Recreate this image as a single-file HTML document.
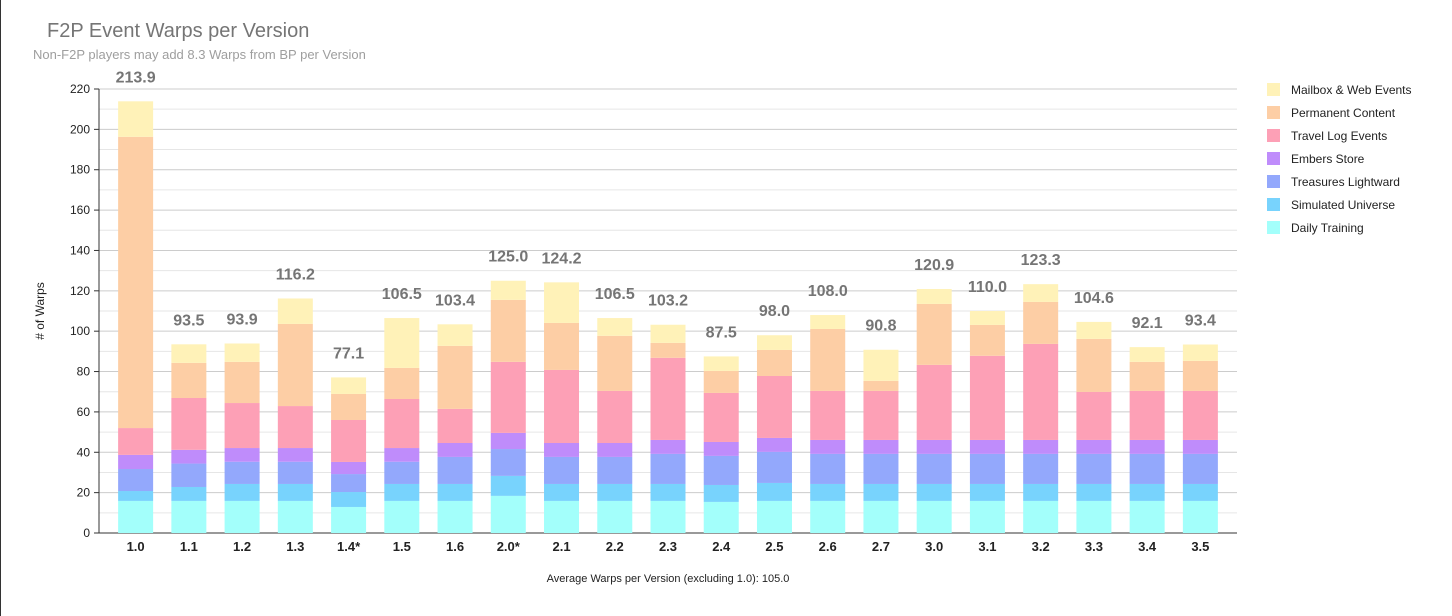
<!DOCTYPE html>
<html><head><meta charset="utf-8"><style>
body{margin:0;background:#fff;}
#wrap{position:relative;width:1452px;height:616px;border-left:1px solid #333;box-sizing:border-box;overflow:hidden;font-family:"Liberation Sans",Arial,sans-serif;}
</style></head><body>
<div id="wrap">
<svg id="chart" width="1452" height="616" style="position:absolute;left:-1px;top:0">
<text x="47" y="37" font-size="20" fill="#757575">F2P Event Warps per Version</text>
<text x="33" y="59" font-size="13" fill="#9e9e9e">Non-F2P players may add 8.3 Warps from BP per Version</text>
<text transform="translate(44,311) rotate(-90)" text-anchor="middle" font-size="12" fill="#222"># of Warps</text>
<text x="668" y="582" text-anchor="middle" font-size="11" fill="#222">Average Warps per Version (excluding 1.0): 105.0</text>
<g id="grid"></g><g id="bars"></g><g id="labels"></g><g id="legend"></g>
</svg>
</div>
<script>
const categories=["1.0","1.1","1.2","1.3","1.4*","1.5","1.6","2.0*","2.1","2.2","2.3","2.4","2.5","2.6","2.7","3.0","3.1","3.2","3.3","3.4","3.5"];
const totals=[213.9,93.5,93.9,116.2,77.1,106.5,103.4,125.0,124.2,106.5,103.2,87.5,98.0,108.0,90.8,120.9,110.0,123.3,104.6,92.1,93.4];
const dailyTraining=[15.9,15.9,15.9,15.9,12.9,15.9,15.9,18.4,15.9,15.9,15.9,15.4,15.9,15.9,15.9,15.9,15.9,15.9,15.9,15.9,15.9];
const simulatedUniverse=[4.9,6.9,8.4,8.4,7.4,8.4,8.4,9.9,8.4,8.4,8.4,8.4,8.9,8.4,8.4,8.4,8.4,8.4,8.4,8.4,8.4];
const treasuresLightward=[10.9,11.6,11.0,11.0,8.9,11.0,13.4,13.3,13.4,13.4,14.9,14.4,15.4,14.9,14.9,14.9,14.9,14.9,14.9,14.9,14.9];
const embersStore=[7.0,6.8,6.8,6.8,6.0,6.8,6.9,8.0,6.9,6.9,6.9,6.9,6.9,6.9,6.9,6.9,6.9,6.9,6.9,6.9,6.9];
const travelLog=[13.3,25.7,22.3,20.8,20.8,24.3,16.9,35.2,36.2,25.8,40.7,24.3,30.7,24.3,24.3,37.2,41.7,47.6,23.8,24.3,24.3];
const permanentContent=[144.3,17.4,20.4,40.7,12.9,15.4,31.2,30.7,23.3,27.3,7.4,10.9,12.9,30.7,5.0,30.2,15.3,20.8,26.3,14.4,14.9];
const mailboxWeb=[17.6,9.2,9.1,12.6,8.2,24.7,10.7,9.5,20.1,8.8,9.0,7.2,7.3,6.9,15.4,7.4,6.9,8.8,8.4,7.3,8.1];
const seriesNames=["Daily Training","Simulated Universe","Treasures Lightward","Embers Store","Travel Log Events","Permanent Content","Mailbox & Web Events"];
const yTicks=[0,20,40,60,80,100,120,140,160,180,200,220];

const series=[dailyTraining,simulatedUniverse,treasuresLightward,embersStore,travelLog,permanentContent,mailboxWeb];
const colors=["#a3fffb","#78d3fd","#93a8fc","#bf8cfb","#fda0b6","#fdcea5","#fff2b8"];
const NS="http://www.w3.org/2000/svg";
const X0=99,X1=1237,Y0=533,YT=89,YMAX=220;
const y=v=>Y0-(v/YMAX)*(Y0-YT);
const step=(X1-X0-20)/categories.length;
const xc=i=>X0+10+step*(i+0.5);
const BW=35;
function mk(tag,attrs,parent){const e=document.createElementNS(NS,tag);for(const k in attrs)e.setAttribute(k,attrs[k]);parent.appendChild(e);return e;}
const grid=document.getElementById('grid'),bars=document.getElementById('bars'),labels=document.getElementById('labels'),legend=document.getElementById('legend');
for(let v=10;v<=YMAX;v+=10){
  const major=v%20===0;
  const l=mk('line',{x1:X0,x2:X1,y1:y(v),y2:y(v),stroke:major?'#cccccc':'#e6e6e6','stroke-width':1},grid);
  
  
}
yTicks.forEach(v=>{
  const t=mk('line',{x1:X0-5,x2:X0,y1:y(v),y2:y(v),stroke:'#333'},grid);
  
  
  const tx=mk('text',{x:X0-9,y:y(v)+4,'text-anchor':'end','font-size':12,fill:'#222'},grid);
  tx.textContent=v;
  
  
});
const ax=mk('line',{x1:X0,x2:X0,y1:YT,y2:Y0,stroke:'#333'},grid);


const bx=mk('line',{x1:X0,x2:X1,y1:Y0,y2:Y0,stroke:'#333'},grid);


categories.forEach((c,i)=>{
  let cum=0;
  series.forEach((s,k)=>{
    const v=(k===series.length-1)?Math.max(0,totals[i]-cum):s[i];
    const r=mk('rect',{x:xc(i)-BW/2,y:y(cum+v),width:BW,height:y(cum)-y(cum+v),fill:colors[k]},bars);
    
    
    cum+=v;
  });
  const vl=mk('text',{x:xc(i),y:y(totals[i])-19,'text-anchor':'middle','font-size':16,'font-weight':'bold',fill:'#757575'},labels);
  vl.textContent=totals[i].toFixed(1);
  
  
  const xl=mk('text',{x:xc(i),y:Y0+18,'text-anchor':'middle','font-size':13,'font-weight':'bold',fill:'#222'},labels);
  xl.textContent=c;
  
  
});
for(let k=series.length-1,row=0;k>=0;k--,row++){
  const g=mk('g',{},legend);
  
  
  const yy=89+row*23;
  mk('rect',{x:1267,y:yy-6,width:13,height:13,fill:colors[k]},g);
  const t=mk('text',{x:1291,y:yy+5,'font-size':12,fill:'#222'},g);
  t.textContent=seriesNames[k];
}
</script>
</body></html>
